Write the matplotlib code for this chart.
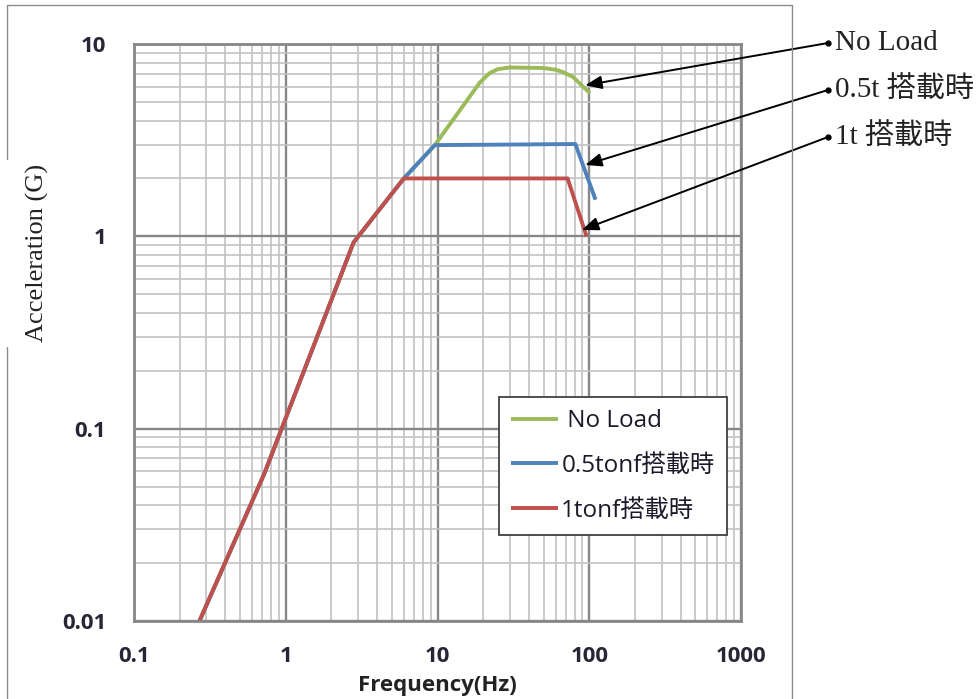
import matplotlib
matplotlib.use('Agg')
import matplotlib.pyplot as plt
from matplotlib.patches import Rectangle
from matplotlib.ticker import FixedLocator, FixedFormatter, LogLocator, NullFormatter

# data (Hz, G)
red_x = [0.27, 0.72, 2.8, 6.0, 72, 96]
red_y = [0.01, 0.058, 0.93, 2.0, 2.0, 1.0]

blue_x = [0.27, 0.72, 2.8, 6.0, 9.6, 30, 81, 110]
blue_y = [0.01, 0.058, 0.93, 2.0, 2.98, 3.0, 3.02, 1.55]

green_x = [0.27, 0.72, 2.8, 6.0, 9.6, 19, 22, 25, 30, 50, 60, 67, 78, 101]
green_y = [0.01, 0.058, 0.93, 2.0, 2.98, 6.3, 7.05, 7.4, 7.55, 7.5, 7.35, 7.15, 6.75, 5.55]

series_names = [' No Load', '0.5tonf搭載時', '1tonf搭載時']
x_ticks = [0.1, 1, 10, 100, 1000]
x_labels = ['0.1', '1', '10', '100', '1000']
y_ticks = [0.01, 0.1, 1, 10]
y_labels = ['0.01', '0.1', '1', '10']

# callouts on the right
note_text = ['No Load', '0.5t 搭載時', '1t 搭載時']
note_x = [94, 94, 89.5]
note_y = [6.1, 2.35, 1.08]

W, H = 979, 699
fig = plt.figure(figsize=(W / 100, H / 100), dpi=100)
fig.patch.set_facecolor('white')

# outer chart frame, left side broken by the y label
fig.add_artist(Rectangle((7 / W, -0.02), 785 / W, 1 - 5 / H + 0.02, fill=False,
                         ec='#8c8c8c', lw=1.0, transform=fig.transFigure))
fig.add_artist(Rectangle((0, 1 - 347 / H), 14 / W, 187 / H, fc='white', ec='none',
                         transform=fig.transFigure, zorder=3))

ax = fig.add_axes([134 / W, 1 - 621 / H, 607 / W, 577 / H])
ax.set_xscale('log')
ax.set_yscale('log')
ax.set_xlim(0.1, 1000)
ax.set_ylim(0.01, 10)

ax.plot(green_x, green_y, color='#9BBB59', lw=2.8, label=series_names[0], solid_capstyle='butt')
ax.plot(blue_x, blue_y, color='#4F81BD', lw=2.8, label=series_names[1], solid_capstyle='butt')
ax.plot(red_x, red_y, color='#C0504D', lw=2.8, label=series_names[2], solid_capstyle='butt')

ax.xaxis.set_major_locator(FixedLocator(x_ticks))
ax.xaxis.set_major_formatter(FixedFormatter(x_labels))
ax.yaxis.set_major_locator(FixedLocator(y_ticks))
ax.yaxis.set_major_formatter(FixedFormatter(y_labels))
for a in (ax.xaxis, ax.yaxis):
    a.set_minor_locator(LogLocator(base=10, subs=range(2, 10), numticks=20))
    a.set_minor_formatter(NullFormatter())

ax.set_axisbelow(True)
ax.grid(which='major', color='#878787', lw=1.7)
ax.grid(which='minor', color='#c2c2c2', lw=1.2)
for s in ax.spines.values():
    s.set_color('#878787')
    s.set_linewidth(2)

ax.tick_params(which='both', length=0)
ax.tick_params(axis='y', pad=20)
ax.tick_params(axis='x', pad=18)
for lab in ax.get_xticklabels() + ax.get_yticklabels():
    lab.set_family('Open Sans')
    lab.set_fontsize(16)
    lab.set_fontweight('bold')
    lab.set_color('#262636')

ax.set_xlabel('Frequency(Hz)', family='Open Sans', fontsize=16, fontweight='bold',
              color='#222222', labelpad=6)

fig.text(37 / W, 1 - 253 / H, 'Acceleration (G)', rotation=90, ha='center', va='center',
         family='Liberation Serif', fontsize=19, color='#222222', zorder=4)

leg = ax.legend(loc='upper left', bbox_to_anchor=(0.601, 0.388), borderaxespad=0,
                fancybox=False, edgecolor='#404040', framealpha=1, handlelength=1.95,
                handletextpad=0.12, labelspacing=0.85, borderpad=0.5,
                prop={'family': ['Open Sans', 'Noto Sans CJK JP'], 'size': 17.5})
leg.get_frame().set_linewidth(1.3)
for t in leg.get_texts():
    t.set_color('#1a1a2a')

for i, txt in enumerate(note_text):
    yy = 1 - (43 + 47 * i) / H
    fig.text(835 / W, yy, txt, ha='left', va='center',
             family=['Liberation Serif', 'Noto Sans CJK JP'], fontsize=21, color='#222222')
    ax.annotate('', xy=(note_x[i], note_y[i]), xycoords='data',
                xytext=(828 / W, yy), textcoords='figure fraction',
                arrowprops=dict(arrowstyle='-|>,head_length=1.0,head_width=0.4',
                                color='black', lw=1.4, shrinkA=0, shrinkB=0),
                annotation_clip=False)
    ax.plot([828 / W], [yy], 'o', ms=3.5, color='black', transform=fig.transFigure,
            clip_on=False)

fig.savefig('out.png', dpi=100)
